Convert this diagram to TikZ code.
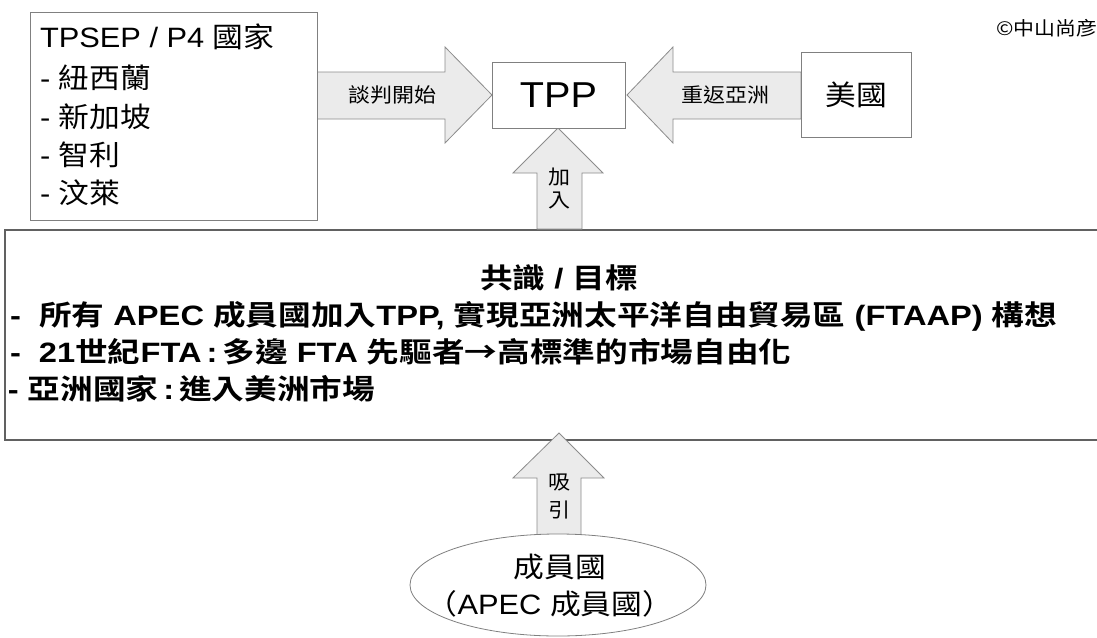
\documentclass[tikz,border=0pt]{standalone}
\usepackage{fontspec}
\usepackage{graphicx}
\usetikzlibrary{shapes.geometric}
\setmainfont{Liberation Sans}[FakeStretch=1.1]
\newfontfamily\cjk{Noto Sans CJK TC}[FakeStretch=1.1,BoldFont={Noto Sans CJK TC Bold}]
\newcommand\C[1]{{\cjk #1}}
\newcommand\fs[1]{\fontsize{#1}{#1}\selectfont}
\newcommand\wide[1]{\scalebox{1.06}[1]{#1}}
\begin{document}
\begin{tikzpicture}[x=1pt,y=-1pt,
  box/.style={draw=black!50, line width=0.8pt, fill=white, inner sep=0pt},
  bigbox/.style={draw=black!62, line width=1.8pt, inner sep=0pt},
  blockarrow/.style={draw=black!45, fill=black!8, line width=0.8pt, line join=miter},
  txt/.style={inner sep=0pt, outer sep=0pt},
  ltxt/.style={txt, anchor=base west, font=\fs{28}},
  gtxt/.style={txt, anchor=base west, font=\fs{28}\bfseries},
  atxt/.style={txt, font=\fs{20}}]
\useasboundingbox (0,0) rectangle (1097,637);
\clip (0,0) rectangle (1097,637);
\fill[white] (0,0) rectangle (1097,637);

% big goal box
\node[bigbox, minimum width=1110, minimum height=210, anchor=north west] (goal) at (4,229) {};

% block arrows
\draw[blockarrow] (317,72) -- (445,72) -- (445,47) -- (492,95) -- (445,143) -- (445,119) -- (317,119) -- cycle;
\draw[blockarrow] (801,72) -- (673,72) -- (673,47) -- (627,95) -- (673,143) -- (673,119) -- (801,119) -- cycle;
\draw[blockarrow] (537,229) -- (537,173) -- (513,173) -- (558,128) -- (603,173) -- (582,173) -- (582,229) -- cycle;
\draw[blockarrow] (537,545) -- (537,478) -- (513,478) -- (559,433) -- (604,478) -- (581,478) -- (581,545) -- cycle;

% boxes
\node[box, minimum width=287, minimum height=208, anchor=north west] (tpsep) at (30,12) {};
\node[box, minimum width=133, minimum height=66] (tpp) at (558.5,95) {\fs{36}TPP};
\node[box, minimum width=110, minimum height=85] (us) at (856,94.5) {\fs{28}\C{美國}};
\node[ellipse, draw=black!50, fill=white, line width=0.8pt, minimum width=296, minimum height=102, inner sep=0pt] (apec) at (558,585) {};

% left box text
\node[ltxt] (l1) at (40,47) {TPSEP / P4 \C{國家}};
\node[ltxt] (l2) at (40,88) {- \C{紐西蘭}};
\node[ltxt] (l3) at (40,127) {- \C{新加坡}};
\node[ltxt] (l4) at (40,165) {- \C{智利}};
\node[ltxt] (l5) at (40,203) {- \C{汶萊}};

% arrow labels
\node[atxt] (a1) at (392,95) {\C{談判開始}};
\node[atxt] (a2) at (725,95) {\C{重返亞洲}};
\node[atxt] (a3) at (559,177) {\C{加}};
\node[atxt] (a4) at (559,200) {\C{入}};
\node[atxt] (a5) at (559,482) {\C{吸}};
\node[atxt] (a6) at (559,510) {\C{引}};

% goal text
\node[txt, font=\fs{28}\bfseries] (g0) at (559,278) {\wide{\C{共識} / \C{目標}}};
\node[gtxt] (g1) at (10,325) {\wide{-\ \ \C{所有} APEC \C{成員國加入}TPP, \C{實現亞洲太平洋自由貿易區} (FTAAP) \C{構想}}};
\node[gtxt] (g2) at (10,362) {\wide{-\ \ 21\C{世紀}FTA\,:\,\C{多邊} FTA \C{先驅者→高標準的市場自由化}}};
\node[gtxt] (g3) at (8,399) {\wide{- \C{亞洲國家}\,:\,\C{進入美洲市場}}};

% ellipse text
\node[txt, font=\fs{28}] (e1) at (560,567) {\C{成員國}};
\node[txt, font=\fs{28}] (e2) at (550,604) {\C{（}APEC \C{成員國）}};

% credit
\node[txt, anchor=east, font=\fs{19}] (cr) at (1097,28) {\C{©中山尚彦}};
\end{tikzpicture}
\end{document}
